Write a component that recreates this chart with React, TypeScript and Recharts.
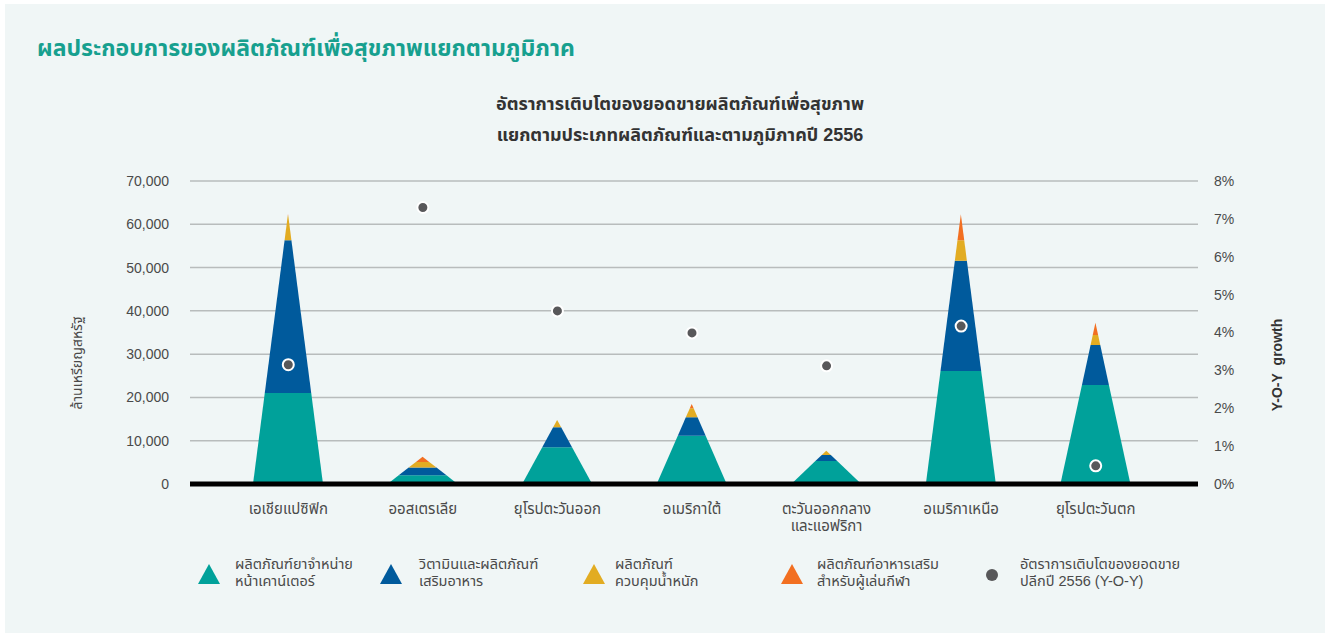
import React from 'react'
import {
  ComposedChart,
  Bar,
  Line,
  XAxis,
  YAxis,
  CartesianGrid,
  ReferenceLine,
} from 'recharts'

const regions = [
  'เอเชียแปซิฟิก',
  'ออสเตรเลีย',
  'ยุโรปตะวันออก',
  'อเมริกาใต้',
  'ตะวันออกกลาง\nและแอฟริกา',
  'อเมริกาเหนือ',
  'ยุโรปตะวันตก',
]
const otcDrugs = [21000, 2000, 8500, 11150, 5300, 26100, 22900]
const vitamins = [35300, 1800, 4600, 4250, 1400, 25500, 9200]
const weightMgmt = [5600, 1300, 1700, 2100, 1000, 4700, 2300]
const sportsNutrition = [500, 1200, 0, 1000, 0, 6000, 2850]
const yoyGrowth = [3.15, 7.3, 4.57, 3.99, 3.12, 4.17, 0.48]

const leftTicks = [0, 10000, 20000, 30000, 40000, 50000, 60000, 70000]
const rightTicks = [0, 1, 2, 3, 4, 5, 6, 7, 8]

const seriesKeys = ['otc', 'vit', 'weight', 'sport']
const seriesColors = ['#00A19A', '#005A9C', '#E2AC22', '#F26F21']
const seriesNames = [
  'ผลิตภัณฑ์ยาจำหน่าย\nหน้าเคาน์เตอร์',
  'วิตามินและผลิตภัณฑ์\nเสริมอาหาร',
  'ผลิตภัณฑ์\nควบคุมน้ำหนัก',
  'ผลิตภัณฑ์อาหารเสริม\nสำหรับผู้เล่นกีฬา',
]
const dotName = 'อัตราการเติบโตของยอดขาย\nปลีกปี 2556 (Y-O-Y)'

const data = regions.map((r, i) => ({
  region: r,
  otc: otcDrugs[i],
  vit: vitamins[i],
  weight: weightMgmt[i],
  sport: sportsNutrition[i],
  growth: yoyGrowth[i],
}))

const FONT = '"Liberation Sans", Arial, "Noto Sans Thai", sans-serif'
const BG = '#F0F6F6'

// each stacked piece is a slice of one big triangle (apex = stack total)
const pyramidShape = (idx: number) => (props: any) => {
  const { x, y, width, height, payload } = props
  const vals = seriesKeys.map((k) => payload[k] as number)
  const v = vals[idx]
  if (!v || height <= 0) return null
  const low = vals.slice(0, idx).reduce((s, n) => s + n, 0)
  const total = vals.reduce((s, n) => s + n, 0)
  const px = height / v
  const base = y + height + low * px
  const apex = base - total * px
  const cx = x + width / 2
  const hw = (py: number) => ((width / 2) * (py - apex)) / (base - apex)
  const yb = y + height
  const yt = y
  const pts = [
    [cx - hw(yb), yb],
    [cx + hw(yb), yb],
    [cx + hw(yt), yt],
    [cx - hw(yt), yt],
  ]
  return (
    <polygon
      points={pts.map((p) => p.join(',')).join(' ')}
      fill={seriesColors[idx]}
    />
  )
}

const RegionTick = ({ x, y, payload }: any) => {
  const lines = String(payload.value).split('\n')
  return (
    <text
      x={x}
      y={y}
      textAnchor="middle"
      fill="#4a4a4a"
      fontSize={15}
      fontFamily={FONT}
    >
      {lines.map((l, i) => (
        <tspan key={i} x={x} dy={i === 0 ? 22 : 17}>
          {l}
        </tspan>
      ))}
    </text>
  )
}

const Triangle = ({ color }: { color: string }) => (
  <svg width={22} height={20} style={{ display: 'block' }}>
    <polygon points="11,0 22,20 0,20" fill={color} />
  </svg>
)

const legendX = [
  { mark: 198, text: 235 },
  { mark: 380, text: 419 },
  { mark: 583, text: 615 },
  { mark: 781, text: 817 },
]

export default function App() {
  return (
    <div
      style={{
        position: 'relative',
        width: 1330,
        height: 637,
        background: '#fff',
        fontFamily: FONT,
        overflow: 'hidden',
      }}
    >
      <style>{'body{margin:0}'}</style>
      <div
        style={{
          position: 'absolute',
          left: 5,
          top: 4,
          width: 1320,
          height: 629,
          background: BG,
        }}
      />
      <div
        style={{
          position: 'absolute',
          left: 37,
          top: 32,
          fontSize: 23,
          fontWeight: 'bold',
          color: '#17A08F',
          whiteSpace: 'nowrap',
        }}
      >
        ผลประกอบการของผลิตภัณฑ์เพื่อสุขภาพแยกตามภูมิภาค
      </div>
      <div
        style={{
          position: 'absolute',
          left: 380,
          width: 600,
          top: 89,
          textAlign: 'center',
          fontSize: 18,
          fontWeight: 'bold',
          color: '#333',
          lineHeight: '31px',
        }}
      >
        อัตราการเติบโตของยอดขายผลิตภัณฑ์เพื่อสุขภาพ
        <br />
        แยกตามประเภทผลิตภัณฑ์และตามภูมิภาคปี 2556
      </div>

      <div style={{ position: 'absolute', left: 0, top: 0 }}>
        <ComposedChart
          width={1330}
          height={637}
          data={data}
          margin={{ top: 181, right: 0, bottom: 93, left: 0 }}
          barCategoryGap={0}
        >
          <CartesianGrid
            vertical={false}
            stroke="#B8BCBC"
            strokeWidth={1.5}
            yAxisId="left"
          />
          <XAxis
            dataKey="region"
            tick={<RegionTick />}
            tickLine={false}
            axisLine={false}
            height={60}
            interval={0}
            padding={{ left: 31, right: 35 }}
          />
          <YAxis
            yAxisId="left"
            width={190}
            domain={[0, 70000]}
            ticks={leftTicks}
            tickFormatter={(v: number) => v.toLocaleString('en-US')}
            tickLine={false}
            axisLine={false}
            tickSize={0}
            tickMargin={21}
            tick={{ fill: '#4a4a4a', fontSize: 14, fontFamily: FONT }}
          />
          <YAxis
            yAxisId="right"
            orientation="right"
            width={132}
            domain={[0, 8]}
            ticks={rightTicks}
            tickFormatter={(v: number) => `${v}%`}
            tickLine={false}
            axisLine={false}
            tickSize={0}
            tickMargin={16}
            tick={{ fill: '#4a4a4a', fontSize: 14, fontFamily: FONT }}
          />
          {seriesKeys.map((k, i) => (
            <Bar
              key={k}
              yAxisId="left"
              dataKey={k}
              stackId="a"
              barSize={70}
              shape={pyramidShape(i)}
              isAnimationActive={false}
            />
          ))}
          <ReferenceLine
            yAxisId="left"
            y={0}
            stroke="#000"
            strokeWidth={5}
          />
          <Line
            yAxisId="right"
            dataKey="growth"
            stroke="none"
            dot={{ r: 5.5, fill: '#58585A', stroke: '#fff', strokeWidth: 2 }}
            activeDot={false}
            isAnimationActive={false}
          />
        </ComposedChart>
      </div>

      <div
        style={{
          position: 'absolute',
          left: 77,
          top: 363,
          transform: 'translate(-50%, -50%) rotate(-90deg)',
          fontSize: 14,
          color: '#4a4a4a',
          whiteSpace: 'nowrap',
        }}
      >
        ล้านเหรียญสหรัฐ
      </div>
      <div
        style={{
          position: 'absolute',
          left: 1277,
          top: 365,
          transform: 'translate(-50%, -50%) rotate(-90deg)',
          fontSize: 14,
          fontWeight: 'bold',
          color: '#333',
          whiteSpace: 'nowrap',
        }}
      >
        Y-O-Y&nbsp; growth
      </div>

      {/* Legend */}
      {seriesNames.map((name, i) => (
        <React.Fragment key={name}>
          <div style={{ position: 'absolute', left: legendX[i].mark, top: 564 }}>
            <Triangle color={seriesColors[i]} />
          </div>
          <div
            style={{
              position: 'absolute',
              left: legendX[i].text,
              top: 556,
              fontSize: 14.5,
              lineHeight: '17px',
              color: '#4a4a4a',
              whiteSpace: 'pre',
            }}
          >
            {name}
          </div>
        </React.Fragment>
      ))}
      <div
        style={{
          position: 'absolute',
          left: 986,
          top: 569,
          width: 12,
          height: 12,
          borderRadius: '50%',
          background: '#58585A',
        }}
      />
      <div
        style={{
          position: 'absolute',
          left: 1020,
          top: 556,
          fontSize: 14.5,
          lineHeight: '17px',
          color: '#4a4a4a',
          whiteSpace: 'pre',
        }}
      >
        {dotName}
      </div>
    </div>
  )
}
